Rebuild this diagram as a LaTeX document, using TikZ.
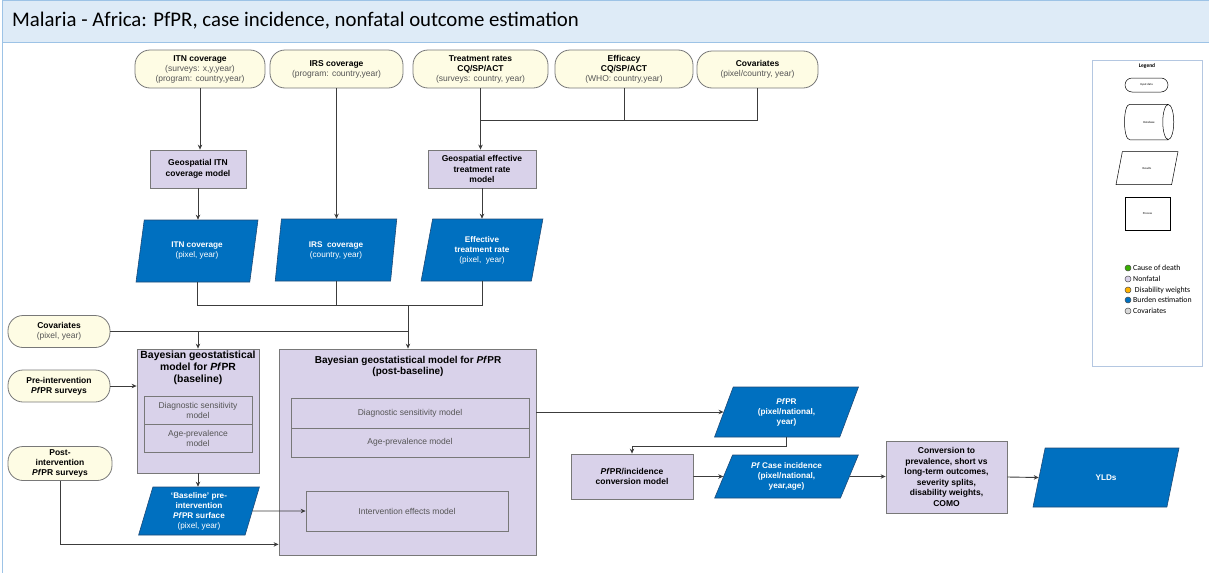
\documentclass[tikz,border=0pt]{standalone}
\usepackage{fontspec}
\setmainfont{Liberation Sans}
\newfontfamily\calfont{Carlito}
\usetikzlibrary{shapes.geometric,arrows.meta,calc}
\definecolor{pillfill}{RGB}{254,252,228}
\definecolor{pillline}{RGB}{120,120,120}
\definecolor{lav}{RGB}{217,210,234}
\definecolor{procline}{RGB}{120,120,120}
\definecolor{resblue}{RGB}{0,112,192}
\definecolor{resline}{RGB}{30,75,120}
\definecolor{linec}{RGB}{60,60,60}
\definecolor{subgray}{RGB}{85,85,85}
\definecolor{titlefill}{RGB}{222,235,247}
\definecolor{titleline}{RGB}{157,195,230}
\definecolor{legline}{RGB}{180,199,225}
\newcommand\subtxt[1]{{\color{subgray}\mdseries #1}}
\tikzset{
  txt/.style={align=center, font=\fontsize{8.5}{10}\selectfont, inner sep=0pt},
  pill/.style={txt, draw=pillline, fill=pillfill, line width=0.8pt, rounded corners=15pt},
  procbox/.style={txt, draw=procline, fill=lav, line width=0.8pt, font=\fontsize{8.5}{10.5}\selectfont\bfseries},
  innerbox/.style={txt, draw=procline, line width=0.7pt, text=subgray, font=\fontsize{8.5}{10}\selectfont},
  result/.style={txt, trapezium, trapezium stretches=true, trapezium left angle=#1,
    trapezium right angle={180-#1}, fill=resblue, draw=resline, line width=0.6pt, text=white,
    font=\fontsize{8.2}{10}\selectfont},
  result/.default=77,
  conn/.style={draw=linec, line width=0.9pt},
  arr/.style={conn, -{Stealth[length=5pt,width=4.5pt]}},
  legsym/.style={line width=0.5pt, minimum height=33, inner sep=0pt, font=\calfont\fontsize{3}{3}\selectfont},
}
\begin{document}
\begin{tikzpicture}[x=1pt,y=-1pt]
\useasboundingbox (0,0) rectangle (1209,573);
% page frame and title bar
\draw[titleline, line width=0.8pt] (2.5,42) -- (2.5,573);
\draw[titleline, fill=titlefill, line width=0.8pt] (2.5,0) rectangle (1212,42);
\node[anchor=west, inner sep=0pt, font=\calfont\fontsize{20.8}{22}\selectfont] (ttl) at (12,21)
  {Malaria - Africa: PfPR, case incidence, nonfatal outcome estimation};

% input data
\node[pill, minimum width=130, minimum height=38] (itnIn) at (200,69)
  {\textbf{ITN coverage}\\\subtxt{(surveys: x,y,year)}\\\subtxt{(program: country,year)}};
\node[pill, minimum width=133, minimum height=38] (irsIn) at (336.5,69)
  {\textbf{IRS coverage}\\\subtxt{(program: country,year)}};
\node[pill, minimum width=135, minimum height=38] (trIn) at (480.5,69)
  {\textbf{Treatment rates}\\\textbf{CQ/SP/ACT}\\\subtxt{(surveys: country, year)}};
\node[pill, minimum width=138, minimum height=38] (effIn) at (624,69)
  {\textbf{Efficacy}\\\textbf{CQ/SP/ACT}\\\subtxt{(WHO: country,year)}};
\node[pill, minimum width=121, minimum height=37] (covIn) at (757.5,69.5)
  {\textbf{Covariates}\\\subtxt{(pixel/country, year)}};

% geospatial models
\node[procbox, minimum width=96, minimum height=38] (gitn) at (198,169)
  {Geospatial ITN\\coverage model};
\node[procbox, minimum width=108, minimum height=38] (getr) at (482,169)
  {Geospatial effective\\treatment rate\\model};

% intervention results
\node[result, minimum width=122, minimum height=62] (itnR) at (197,251)
  {\textbf{ITN coverage}\\(pixel, year)};
\node[result=80, minimum width=122, minimum height=62] (irsR) at (336,250)
  {\textbf{IRS\ \ coverage}\\(country, year)};
\node[result, minimum width=122, minimum height=62] (etrR) at (482,250)
  {\textbf{Effective}\\\textbf{treatment rate}\\(pixel,\ \ year)};

\draw[arr] (itnIn.south) -- (itnIn.south |- gitn.north);
\draw[arr] (gitn.south) -- (gitn.south |- itnR.north);
\draw[arr] (irsIn.south) -- (irsIn.south |- irsR.north);
\draw[arr] (trIn.south) -- (trIn.south |- getr.north);
\coordinate (tj) at (480.5,120);
\draw[conn] (effIn.south) |- (tj);
\draw[conn] (covIn.south) |- (tj);
\draw[arr] (getr.south) -- (getr.south |- etrR.north);

% left-hand inputs
\node[pill, minimum width=102, minimum height=32] (covL) at (59,331.5)
  {\textbf{Covariates}\\\subtxt{(pixel, year)}};
\node[pill, minimum width=102, minimum height=32] (preL) at (59,386)
  {\textbf{Pre-intervention}\\\textbf{\textit{Pf}PR surveys}};
\node[pill, minimum width=104, minimum height=34] (postL) at (60,463.5)
  {\textbf{Post-}\\\textbf{intervention}\\\textbf{\textit{Pf}PR surveys}};

% baseline model
\node[procbox, minimum width=122, minimum height=124] (base) at (198,411) {};
\node[txt, anchor=north, font=\fontsize{10.4}{12}\selectfont\bfseries] (baseT) at (198,351)
  {Bayesian geostatistical\\model for \textit{Pf}PR\\(baseline)};
\node[innerbox, minimum width=108, minimum height=28] (bDiag) at (198,410)
  {Diagnostic sensitivity\\model};
\node[innerbox, minimum width=108, minimum height=28] (bAge) at (198,438)
  {Age-prevalence\\model};
\node[result, minimum width=121, minimum height=48] (baseR) at (199,511)
  {\textbf{‘Baseline’ pre-}\\\textbf{intervention}\\\textbf{\textit{Pf}PR surface}\\(pixel, year)};

% post-baseline model
\node[procbox, minimum width=257, minimum height=206] (post) at (407.5,452) {};
\node[txt, anchor=north, font=\fontsize{10}{11.5}\selectfont\bfseries] (postT) at (408,356)
  {Bayesian geostatistical model for \textit{Pf}PR\\(post-baseline)};
\node[innerbox, minimum width=238, minimum height=30] (pDiag) at (410,413)
  {Diagnostic sensitivity model};
\node[innerbox, minimum width=238, minimum height=29] (pAge) at (410,442.5)
  {Age-prevalence model};
\node[innerbox, minimum width=202, minimum height=40] (iem) at (407,511)
  {Intervention effects model};

% joins into the models
\coordinate (rj) at (408,305);
\draw[conn] (itnR.south) |- (rj);
\draw[conn] (irsR.south) |- (rj);
\draw[conn] (etrR.south) |- (rj);
\draw[arr] (rj) -- (rj |- post.north);
\coordinate (cj) at (408,331.5);
\draw[conn] (covL.east) -- (cj);
\draw[arr] (covL.east -| base.north) -- (base.north);
\draw[arr] (preL.east) -- (preL.east -| base.west);
\draw[arr] (base.south) -- (base.south |- baseR.north);
\draw[arr] (baseR.east) -- (iem.west);
\draw[arr] (postL.south) |- ($(post.south west)+(0,-11)$);

% outputs
\node[result=70, minimum width=145, minimum height=50] (pfpr) at (786.5,412)
  {\textbf{\textit{Pf}PR}\\\textbf{(pixel/national,}\\\textbf{year)}};
\node[procbox, minimum width=122, minimum height=45] (conv) at (632,476.5)
  {\textit{Pf}PR/incidence\\conversion model};
\node[result=67, minimum width=145, minimum height=43] (case) at (786.5,476.5)
  {\textbf{\textit{Pf} Case incidence}\\\textbf{(pixel/national,}\\\textbf{year,age)}};
\node[procbox, minimum width=121, minimum height=72] (comor) at (946.5,477)
  {Conversion to\\prevalence, short vs\\long-term outcomes,\\severity splits,\\disability weights,\\COMO};
\node[result=70, minimum width=146, minimum height=59] (ylds) at (1106,477.5)
  {\textbf{YLDs}};

\draw[arr] (pfpr.west -| post.east) -- (pfpr.west);
\draw[arr] (pfpr.south) -- ++(0,9) -| (conv.north);
\draw[arr] (conv.east) -- (case.west);
\draw[arr] (case.east) -- (case.east -| comor.west);
\draw[arr] (comor.east) -- (ylds.west);

% legend
\node[draw=legline, line width=0.8pt, minimum width=110, minimum height=306, inner sep=0pt] (leg) at (1147,213) {};
\node[inner sep=0pt, font=\calfont\fontsize{5.5}{6}\selectfont\bfseries] (legT) at (1147,66) {Legend};
\node[legsym, draw=black, rounded corners=7pt, minimum width=43, minimum height=14] (legIn) at (1146.5,85) {Input data};
% database symbol: a lying cylinder drawn round its node
\node[legsym, minimum width=38, minimum height=35] (legDb) at (1149,122) {Database};
\draw[line width=0.5pt] (legDb.north west) -- (legDb.north east)
  (legDb.south west) -- (legDb.south east)
  (legDb.north west) .. controls ($(legDb.north west)+(-7,0)$) and ($(legDb.south west)+(-7,0)$) .. (legDb.south west)
  (legDb.east) ellipse [x radius=5.5, y radius=17.5];
\node[legsym, draw=black, trapezium, trapezium stretches=true, trapezium left angle=62,
  trapezium right angle=118, minimum width=62] (legRes) at (1147,168) {Results};
\node[legsym, draw=black, minimum width=45] (legProc) at (1147.5,213.5) {Process};
\foreach \yy/\col/\lab [count=\i] in {268/{green!55!black!70!lime}/Cause of death, 279/lav/Nonfatal,
    290/{orange!60!yellow}/\ Disability weights, 300/resblue/Burden estimation, 311/{black!15}/Covariates} {
  \node[circle, draw=black!70, fill=\col, line width=0.5pt, minimum size=6, inner sep=0pt] (dot\i) at (1128,\yy) {};
  \node[anchor=west, inner sep=0pt, font=\calfont\fontsize{7.8}{8}\selectfont] (dl\i) at (1133,\yy) {\lab};
}
\end{tikzpicture}
\end{document}
